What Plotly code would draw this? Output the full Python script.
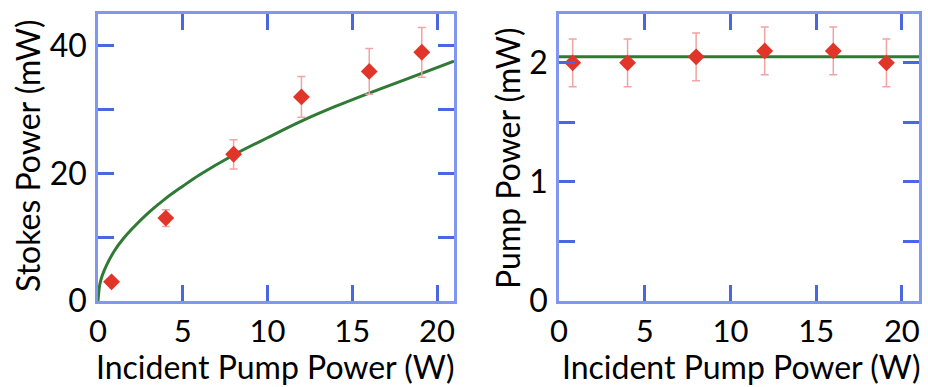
import plotly.graph_objects as go

# Measured data (incident pump power in W)
incident_w = [0.8, 4.0, 8.0, 12.0, 16.0, 19.1]
stokes_mw = [3.0, 13.0, 23.0, 32.0, 36.0, 39.0]
stokes_err = [0.3, 1.3, 2.3, 3.2, 3.6, 3.9]
pump_mw = [2.0, 2.0, 2.05, 2.1, 2.1, 2.0]
pump_err = [0.2, 0.2, 0.2, 0.2, 0.2, 0.2]

# Fitted curves
fit_x = [0, 0.1, 0.25, 0.5, 1, 1.5, 2, 3, 4, 5, 6, 8, 10, 12, 14, 16, 18, 21]
fit_stokes = [0, 2.5, 4.0, 5.6, 8.0, 9.8, 11.3, 13.9, 16.1, 18.0, 19.8, 22.9,
              25.6, 28.2, 30.5, 32.6, 34.6, 37.6]
fit_pump_x = [0, 21]
fit_pump = [2.05, 2.05]

FONT = "Lato"
BOX = "#8196f0"
TICK = "#4a66e2"
RED = "#e2352a"
ERR = "#f2a3a3"
GREEN = "#2f7a35"

fig = go.Figure()

fig.add_trace(go.Scatter(x=fit_x, y=fit_stokes, mode="lines", line=dict(color=GREEN, width=3, shape="spline"),
                         xaxis="x", yaxis="y", showlegend=False))
fig.add_trace(go.Scatter(x=incident_w, y=stokes_mw, mode="markers",
                         marker=dict(symbol="diamond", size=13, color=RED),
                         error_y=dict(type="data", array=stokes_err, color=ERR, thickness=1.5, width=4),
                         xaxis="x", yaxis="y", showlegend=False))

fig.add_trace(go.Scatter(x=fit_pump_x, y=fit_pump, mode="lines", line=dict(color=GREEN, width=3),
                         xaxis="x2", yaxis="y2", showlegend=False))
fig.add_trace(go.Scatter(x=incident_w, y=pump_mw, mode="markers",
                         marker=dict(symbol="diamond", size=13, color=RED),
                         error_y=dict(type="data", array=pump_err, color=ERR, thickness=1.5, width=4),
                         xaxis="x2", yaxis="y2", showlegend=False))

common = dict(showline=True, linecolor=BOX, linewidth=2.5, mirror="ticks", ticks="inside",
              ticklen=16, tickwidth=2.5, tickcolor=TICK, showgrid=False, zeroline=False,
              automargin=False)
xtickfont = dict(family=FONT, size=31, color="black")
ytickfont = dict(family=FONT, size=32, color="black")

ydom = [1 - 301 / 387, 1 - 14 / 387]
fig.update_layout(
    width=928, height=387, margin=dict(l=0, r=0, t=0, b=0, autoexpand=False),
    paper_bgcolor="white", plot_bgcolor="white",
    xaxis=dict(domain=[98 / 928, 454 / 928], range=[0, 21], dtick=5, anchor="y",
               ticklabelstandoff=1, tickfont=xtickfont, **common),
    yaxis=dict(domain=ydom, range=[0, 45], dtick=20, anchor="x", ticklabelstandoff=2,
               tickfont=ytickfont,
               minor=dict(dtick=10, ticks="inside", ticklen=16, tickwidth=2.5, tickcolor=TICK),
               **common),
    xaxis2=dict(domain=[559 / 928, 919 / 928], range=[0, 21], dtick=5, anchor="y2",
                ticklabelstandoff=1, tickfont=xtickfont, **common),
    yaxis2=dict(domain=ydom, range=[0, 2.41], dtick=1, anchor="x2", ticklabelstandoff=2,
                tickfont=ytickfont,
                minor=dict(dtick=0.5, ticks="inside", ticklen=16, tickwidth=2.5, tickcolor=TICK),
                **common),
)

title_font = dict(family=FONT, size=32, color="black")
fig.add_annotation(text="Stokes Power (mW)", x=27 / 928, y=1 - 156 / 387, xref="paper", yref="paper",
                   textangle=-90, showarrow=False, font=title_font, xanchor="center", yanchor="middle")
fig.add_annotation(text="Pump Power (mW)", x=507 / 928, y=1 - 159 / 387, xref="paper", yref="paper",
                   textangle=-90, showarrow=False, font=title_font, xanchor="center", yanchor="middle")
for cx in (275, 741):
    fig.add_annotation(text="Incident Pump Power (W)", x=cx / 928, y=0, xref="paper", yref="paper",
                       showarrow=False, font=title_font, xanchor="center", yanchor="bottom",
                       borderpad=0)

fig.write_html("out.html")
